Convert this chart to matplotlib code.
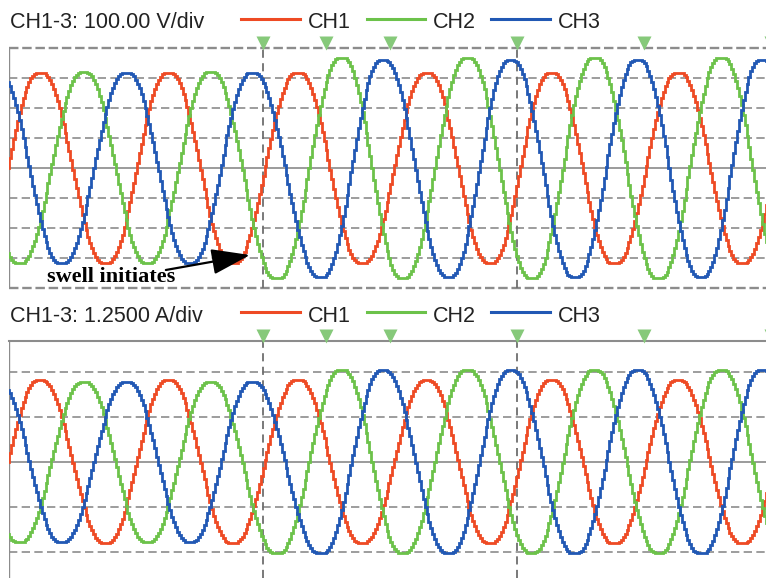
import numpy as np
import matplotlib
matplotlib.use("Agg")
import matplotlib.pyplot as plt
from matplotlib.lines import Line2D

# ---------------------------------------------------------------------------
# Waveform extrema (time in ms, swell starts at t = 0; values in divisions)
# ---------------------------------------------------------------------------
red_times = [-45.1, -35.1, -24.8, -14.9, -4.8, 5.5, 15.6, 25.8, 35.7, 45.4,
             55.3, 65.4, 75.5, 85.4]
green_times = [-48.2, -38.4, -28.2, -18.2, -8.3, 2.2, 12.4, 22.0, 32.2, 42.3,
               52.2, 62.3, 72.2, 82.1]
blue_times = [-41.8, -31.7, -21.5, -11.5, -1.7, 9.1, 18.9, 29.2, 39.0, 49.1,
              59.0, 69.0, 78.6, 88.7]

# voltage panel (100 V/div)
red_volts = [-3.17, 3.17, -3.17, 3.17, -3.17, 3.17, -3.17, 3.17, -3.17, 3.17,
             -3.17, 3.17, -3.17, 3.17]
green_volts = [3.2, -3.17, 3.2, -3.17, 3.2, -3.67, 3.67, -3.67, 3.67, -3.67,
               3.67, -3.67, 3.67, -3.67]
blue_volts = [3.17, -3.17, 3.17, -3.17, 3.17, -3.63, 3.6, -3.63, 3.6, -3.63,
              3.6, -3.63, 3.6, -3.63]

# current panel (1.25 A/div)
red_amps = [-1.8, 1.82, -1.8, 1.82, -1.8, 1.82, -1.8, 1.82, -1.8, 1.82,
            -1.8, 1.82, -1.8, 1.82]
green_amps = [1.78, -1.78, 1.78, -1.78, 1.78, -2.02, 2.04, -2.02, 2.04, -2.02,
              2.04, -2.02, 2.04, -2.02]
blue_amps = [1.78, -1.78, 1.78, -1.78, 1.78, -2.03, 2.04, -2.03, 2.04, -2.03,
             2.04, -2.03, 2.04, -2.03]

channel_names = ["CH1", "CH2", "CH3"]
panel_titles = ["CH1-3: 100.00 V/div", "CH1-3: 1.2500 A/div"]
cursor_times = [0, 10, 20, 40, 60, 80]
swell_label = "swell initiates"

RED, GREEN, BLUE = "#ee4a24", "#6cc24a", "#2158b4"
GRID = "#8c8c8c"
TEXT = "#222222"

W, H = 766, 578
PX_PER_MS = 6.35
T0, T1 = -40.0, 80.0
LEFT_PX = 263 - 40 * PX_PER_MS


def trace(times, values, t, hold=0.4):
    """Scope trace through the given extrema with short flat tops."""
    times = np.asarray(times, float)
    values = np.asarray(values, float)
    k = np.clip(np.searchsorted(times, t) - 1, 0, len(times) - 2)
    a = times[k] + hold
    b = times[k + 1] - hold
    f = np.clip((t - a) / (b - a), 0.0, 1.0)
    v0, v1 = values[k], values[k + 1]
    return v0 + (v1 - v0) * (1 - np.cos(np.pi * f)) / 2


def fx(px):
    return px / W


def fy(py):
    return 1 - py / H


fig = plt.figure(figsize=(W / 100, H / 100), dpi=100)
fig.patch.set_facecolor("white")

panels = [
    dict(top=48, bottom=288, ylim=(-4, 4), grid=[-3, -2, -1, 1, 2, 3],
         series=[red_volts, green_volts, blue_volts], title_y=28.5, line_y=18.5,
         dashed_frame=True),
    dict(top=341, bottom=578, ylim=(-(578 - 462) / 45, (462 - 341) / 45),
         grid=[-2, -1, 1, 2],
         series=[red_amps, green_amps, blue_amps], title_y=322, line_y=312,
         dashed_frame=False),
]

t = np.arange(T0 - 1, T1 + 1, 0.3)
times_all = [red_times, green_times, blue_times]
colors = [RED, GREEN, BLUE]
axes = []

for i, p in enumerate(panels):
    h_px = p["bottom"] - p["top"]
    ax = fig.add_axes([fx(LEFT_PX), fy(p["bottom"]), (T1 - T0) * PX_PER_MS / W, h_px / H])
    axes.append(ax)
    ax.set_xlim(T0, T1)
    ax.set_ylim(*p["ylim"])
    ax.set_facecolor("white")
    ax.set_xticks([])
    ax.set_yticks([])
    for s in ax.spines.values():
        s.set_visible(False)

    # frame
    ax.axvline(T0, color=GRID, lw=1.7, zorder=1)
    if p["dashed_frame"]:
        for yv in p["ylim"]:
            ax.axhline(yv, color=GRID, lw=1.7, ls=(0, (4, 1.6)), zorder=1, clip_on=False)
    else:
        ax.axhline(p["ylim"][1], color=GRID, lw=1.5, zorder=1, clip_on=False)

    # graticule
    for g in p["grid"]:
        ax.axhline(g, color=GRID, lw=1.2, ls=(0, (5, 2.6)), zorder=1)
    ax.axhline(0, color="#8a8a8a", lw=1.2, zorder=1)
    for xv in (0, 40):
        ax.axvline(xv, color="#6e6e6e", lw=1.3, ls=(0, (4.5, 3)), zorder=1)

    # traces
    for tm, vals, c in zip(times_all, p["series"], colors):
        ax.plot(t, trace(tm, vals, t), color=c, lw=2.0, drawstyle="steps-mid",
                solid_joinstyle="miter", zorder=3)

    # cursor markers above the frame
    ax.plot(cursor_times, [1 + 5.5 / h_px] * len(cursor_times), "v", ms=10,
            color="#86c97a", mec="none", transform=ax.get_xaxis_transform(),
            clip_on=False, zorder=4)

    # header: scale and channel key
    fig.text(fx(10), fy(p["title_y"]), panel_titles[i],
             fontsize=15.5, family="Liberation Sans", color=TEXT,
             ha="left", va="baseline")
    key = [(241, 300, 308), (367, 425, 433), (491, 550, 558)]
    for (x0, x1, xt), c, name in zip(key, colors, channel_names):
        fig.add_artist(Line2D([fx(x0), fx(x1)], [fy(p["line_y"])] * 2,
                              color=c, lw=2.2, transform=fig.transFigure))
        fig.text(fx(xt), fy(p["title_y"]), name, fontsize=15.5,
                 family="Liberation Sans", color=TEXT, ha="left", va="baseline")

# annotation of the swell start on the voltage panel
ax_v = axes[0]
ax_v.text(-34.0, -3.8, swell_label, fontsize=16, family="Liberation Serif",
          fontweight="bold", color="black", ha="left", va="baseline", zorder=6)
ax_v.annotate("", xy=(-2.05, -2.9), xytext=(-15.3, -3.4),
              arrowprops=dict(arrowstyle="-|>,head_length=1.2,head_width=0.4",
                              color="black", lw=1.6, mutation_scale=20,
                              shrinkA=0, shrinkB=0),
              zorder=6)

fig.savefig("out.png", dpi=100, facecolor="white")
